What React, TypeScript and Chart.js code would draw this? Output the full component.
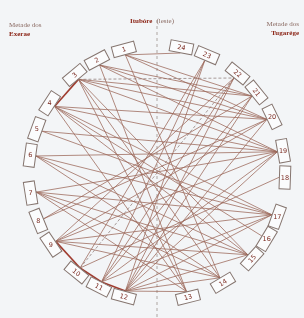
import React, { useEffect, useRef } from "react";
import { Chart, registerables } from "chart.js";

Chart.register(...registerables);

// ---- data ----
const NODE_IDS = [1, 2, 3, 4, 5, 6, 7, 8, 9, 10, 11, 12, 13, 14, 15, 16, 17, 18, 19, 20, 21, 22, 23, 24];
// angle of each clan box on the circle, degrees clockwise from the top (east = Itubóre)
const NODE_ANGLES = [345, 332, 320, 303, 290, 278, 261, 248, 236, 219, 207, 195, 166, 149, 132, 121, 110, 92, 80, 64, 51, 39, 23, 11];

const SOLID_EDGES: [number, number][] = [
  [1, 24], [1, 21], [1, 20], [1, 14],
  [2, 21], [2, 20], [2, 19], [2, 13],
  [3, 21], [3, 20], [3, 19], [3, 15], [3, 14], [3, 13],
  [4, 20], [4, 19], [4, 17], [4, 15], [4, 13], [4, 16],
  [5, 19], [5, 17],
  [6, 19], [6, 17], [6, 15], [6, 14],
  [7, 19], [7, 17], [7, 15], [7, 14], [7, 13],
  [8, 21], [8, 20],
  [9, 22], [9, 20], [9, 19], [9, 17], [9, 15], [9, 14],
  [10, 23], [10, 18],
  [11, 23], [11, 22], [11, 21], [11, 19], [11, 17],
  [12, 23], [12, 22], [12, 21], [12, 20], [12, 19], [12, 17], [12, 15], [12, 14], [12, 13],
];
const DASHED_EDGES: [number, number][] = [[3, 22], [10, 22]];
const RIM_EDGES: [number, number][] = [[3, 4], [9, 10], [10, 11], [11, 12]];

const TITLE_TOP = ["Itubóre", "(leste)"];
const TITLE_LEFT = ["Metade dos", "Exerae"];
const TITLE_RIGHT = ["Metade dos", "Tugarége"];

// ---- layout ----
const W = 304;
const H = 318;
const CX = 157;
const CY = 173;
const R = 128;
const END_R = 0.955;

const rad = (d: number) => (d * Math.PI) / 180;
const angleOf = (id: number) => NODE_ANGLES[NODE_IDS.indexOf(id)];
const pt = (id: number, r: number) => ({ x: r * Math.sin(rad(angleOf(id))), y: r * Math.cos(rad(angleOf(id))) });

function edgeDatasets(edges: [number, number][], color: string, width: number, dash: number[]) {
  return edges.map(([a, b]) => ({
    data: [pt(a, END_R), pt(b, END_R)],
    showLine: true,
    borderColor: color,
    borderWidth: width,
    borderDash: dash,
    pointRadius: 0,
    fill: false,
  }));
}

const bgPlugin = {
  id: "bg",
  beforeDraw(chart: any) {
    const { ctx } = chart;
    ctx.save();
    ctx.fillStyle = "#f3f5f7";
    ctx.fillRect(0, 0, chart.width, chart.height);
    const xs = chart.scales.x;
    const px = xs.getPixelForValue(0);
    ctx.strokeStyle = "#9c918c";
    ctx.lineWidth = 0.8;
    ctx.setLineDash([3, 3]);
    ctx.beginPath();
    ctx.moveTo(px, 20);
    ctx.lineTo(px, chart.height);
    ctx.stroke();
    ctx.restore();
  },
};

const boxPlugin = {
  id: "boxes",
  afterDatasetsDraw(chart: any) {
    const { ctx } = chart;
    const xs = chart.scales.x;
    const ys = chart.scales.y;
    NODE_IDS.forEach((id) => {
      const a = angleOf(id);
      const p = pt(id, 1);
      const px = xs.getPixelForValue(p.x);
      const py = ys.getPixelForValue(p.y);
      ctx.save();
      ctx.translate(px, py);
      ctx.rotate(rad(a));
      ctx.fillStyle = "#fbfcfd";
      ctx.strokeStyle = "#85756f";
      ctx.lineWidth = 1;
      ctx.fillRect(-11.5, -5.5, 23, 11);
      ctx.strokeRect(-11.5, -5.5, 23, 11);
      ctx.rotate(-rad(a));
      let tr = a % 180;
      if (tr > 90) tr -= 180;
      if (Math.abs(tr) > 55) tr = 0;
      ctx.rotate(rad(tr));
      ctx.fillStyle = "#7b2a20";
      ctx.font = "6.5px 'DejaVu Sans', sans-serif";
      ctx.textAlign = "center";
      ctx.textBaseline = "middle";
      ctx.fillText(String(id), 0, 0.5);
      ctx.restore();
    });
  },
};

export default function App() {
  const ref = useRef<HTMLCanvasElement | null>(null);
  useEffect(() => {
    if (!ref.current) return;
    const chart = new Chart(ref.current, {
      type: "scatter",
      data: {
        datasets: [
          ...edgeDatasets(SOLID_EDGES, "rgba(155,102,88,0.85)", 0.9, []),
          ...edgeDatasets(DASHED_EDGES, "rgba(130,110,105,0.85)", 0.8, [3, 2]),
          ...edgeDatasets(RIM_EDGES, "rgba(150,40,25,0.9)", 1.6, []),
        ],
      },
      options: {
        animation: false,
        responsive: false,
        maintainAspectRatio: false,
        layout: { padding: 0 },
        scales: {
          x: { type: "linear", display: false, min: -CX / R, max: (W - CX) / R },
          y: { type: "linear", display: false, min: -(H - CY) / R, max: CY / R },
        },
        plugins: { legend: { display: false }, tooltip: { enabled: false } },
      },
      plugins: [bgPlugin, boxPlugin],
    });
    return () => chart.destroy();
  }, []);

  const small: React.CSSProperties = { fontSize: 7, lineHeight: "9px", color: "#8a6a62", fontFamily: "'Liberation Serif', serif", whiteSpace: "nowrap" };
  const bold: React.CSSProperties = { fontSize: 7, lineHeight: "9px", color: "#8b2416", fontWeight: "bold", fontFamily: "'Liberation Serif', serif", whiteSpace: "nowrap" };

  return (
    <div style={{ position: "fixed", left: 0, top: 0, width: W, height: H, background: "#f3f5f7", overflow: "hidden" }}>
      <canvas ref={ref} width={W} height={H} style={{ position: "absolute", left: 0, top: 0, width: W, height: H }} />
      <div style={{ position: "absolute", left: 0, width: W, top: 9, textAlign: "center" }}>
        <span style={bold}>{TITLE_TOP[0]}</span> <span style={small}>{TITLE_TOP[1]}</span>
      </div>
      <div style={{ position: "absolute", left: 9, top: 21 }}>
        <div style={small}>{TITLE_LEFT[0]}</div>
        <div style={bold}>{TITLE_LEFT[1]}</div>
      </div>
      <div style={{ position: "absolute", right: 5, top: 20, textAlign: "right" }}>
        <div style={small}>{TITLE_RIGHT[0]}</div>
        <div style={bold}>{TITLE_RIGHT[1]}</div>
      </div>
    </div>
  );
}
